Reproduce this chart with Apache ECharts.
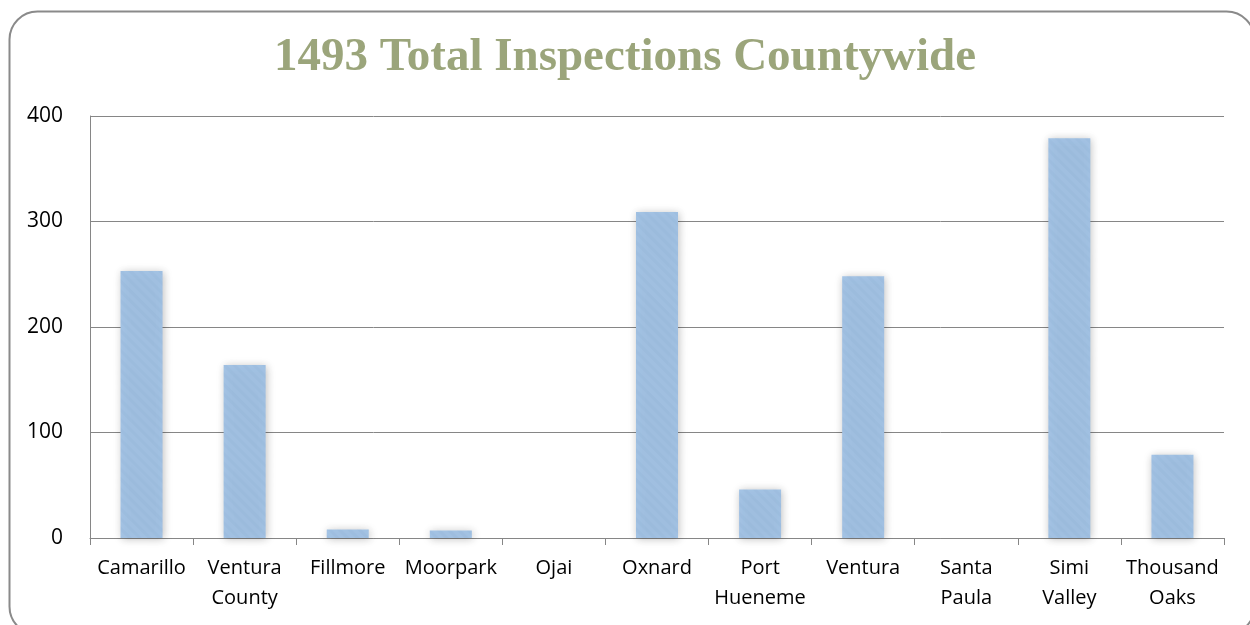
<!DOCTYPE html>
<html>
<head>
<meta charset="utf-8">
<script src="https://cdn.jsdelivr.net/npm/echarts@6/dist/echarts.min.js"></script>
<style>html,body{margin:0;padding:0;background:#fff;}#c{width:1250px;height:625px;}</style>
</head>
<body>
<div id="c"></div>
<script>
var titleText = '1493 Total Inspections Countywide';
var categories = ['Camarillo', 'Ventura\nCounty', 'Fillmore', 'Moorpark', 'Ojai', 'Oxnard', 'Port\nHueneme', 'Ventura', 'Santa\nPaula', 'Simi\nValley', 'Thousand\nOaks'];
var inspections = [253, 164, 8, 7, 0, 309, 46, 248, 0, 379, 79];
var yTicks = [0, 100, 200, 300, 400];

var chart = echarts.init(document.getElementById('c'));
chart.setOption({
  animation: false,
  aria: { enabled: true, decal: { show: true } },
  graphic: [{
    type: 'rect', left: 7, top: 9, z: -1,
    shape: { width: 1245, height: 623, r: 28 },
    style: { fill: 'none', stroke: '#8a8a8a', lineWidth: 2 }
  }],
  title: {
    text: titleText, left: 'center', top: 29,
    textStyle: { fontFamily: 'Liberation Serif', fontWeight: 'bold', fontSize: 47, color: '#9ba57b' }
  },
  grid: { left: 90, right: 26, top: 116, bottom: 87 },
  xAxis: {
    type: 'category', data: categories,
    axisLine: { lineStyle: { color: '#868686', width: 1 } },
    axisTick: { show: true, length: 7, lineStyle: { color: '#868686' } },
    axisLabel: { color: '#000', fontFamily: 'Open Sans', fontSize: 20, lineHeight: 30, margin: 15, interval: 0 }
  },
  yAxis: {
    type: 'value', min: yTicks[0], max: yTicks[yTicks.length - 1], interval: 100,
    axisLine: { show: true, lineStyle: { color: '#868686' } },
    axisTick: { show: false },
    splitLine: { lineStyle: { color: '#868686', width: 1 } },
    axisLabel: { color: '#000', fontFamily: 'Open Sans', fontSize: 21, margin: 27 }
  },
  series: [{
    type: 'bar', data: inspections, barWidth: 42,
    itemStyle: {
      color: '#a5c5e7',
      shadowColor: 'rgba(0,0,0,0.22)', shadowBlur: 8, shadowOffsetX: 1, shadowOffsetY: 1,
      decal: {
        symbol: 'rect', color: 'rgba(120,155,195,0.08)',
        dashArrayX: [1, 0], dashArrayY: [3, 4], rotation: Math.PI / 4
      }
    }
  }]
});
</script>
</body>
</html>
